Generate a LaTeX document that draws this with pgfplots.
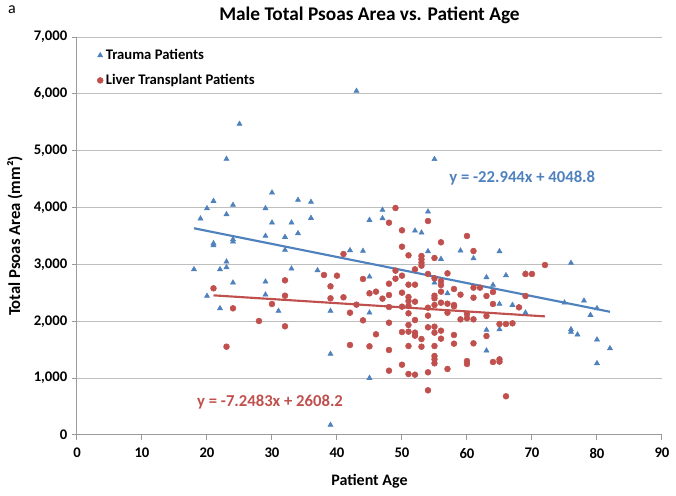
\documentclass[border=0pt]{standalone}
\usepackage{fontspec}
\setmainfont{Carlito}
\usepackage{pgfplots}
\pgfplotsset{compat=1.18}
\definecolor{trauma}{HTML}{4F81BD}
\definecolor{liver}{HTML}{C0504D}
\definecolor{gridc}{HTML}{BEBEBE}
\definecolor{axisc}{HTML}{9A9A9A}

% trauma patients: age, total psoas area (mm^2)
\pgfplotstableread{
age area
25 5470
23 4854
43 6050
55 4850
21 4115
20 3987
24 4045
29 3987
19 3805
23 3881
21 3371
21 3336
24 3441
24 3400
29 3500
23 3048
18 2914
22 2914
23 2949
24 2679
29 2696
20 2445
29 2468
22 2228
30 4262
34 4133
36 4098
30 3734
33 3734
36 3816
32 3482
34 3547
32 3254
33 2925
37 2896
42 3248
44 3236
45 2784
47 3957
47 3811
45 3781
54 3928
52 3593
53 3558
54 3230
56 3095
55 2679
57 2492
59 3242
61 3107
65 3230
76 3025
63 2773
66 2808
69 2837
64 2638
65 2304
67 2286
75 2327
78 2362
80 2228
31 2181
39 2181
45 2151
39 1425
45 1002
39 176
69 2151
63 1847
65 1859
63 1483
79 2110
76 1859
76 1812
77 1765
80 1677
82 1524
80 1261
}\trauma

% liver transplant patients
\pgfplotstableread{
age area
21 2580
24 2228
28 2005
23 1553
30 2304
32 2720
32 2450
38 2814
39 2615
40 2802
39 2404
41 3183
41 2422
43 2292
44 2744
45 2492
46 2521
47 2398
48 2661
48 2462
48 2251
48 3734
49 3992
49 2890
49 2749
50 3600
50 3312
50 2802
50 2503
50 2257
51 3160
51 2644
51 2427
51 2357
51 2269
52 2914
52 2644
52 2345
53 3148
53 3089
53 3031
53 2978
54 3764
54 2832
54 2239
55 3113
55 2756
55 2450
55 2404
55 2286
56 3389
56 2708
56 2638
56 2521
56 2327
57 2843
57 2309
58 2568
58 2263
60 3500
61 3236
72 2990
70 2832
69 2832
59 2468
61 2591
62 2591
61 2415
63 2445
64 2515
64 2304
69 2445
68 2245
58 2286
32 1912
42 2151
44 2017
46 1771
42 1583
45 1560
48 1975
48 1495
48 1131
50 1811
50 1236
51 2140
51 1935
51 1817
51 1565
51 1073
52 2022
52 1800
52 1747
52 1061
53 1688
53 1553
54 2099
54 1894
54 1103
54 786
55 1905
55 1800
55 1565
55 1389
55 1331
55 1261
56 1835
56 1694
57 2151
57 1161
58 1759
58 1606
59 2034
60 2128
60 2052
61 2034
61 1612
60 1301
60 1249
63 2093
63 1741
64 1284
65 1952
65 1331
65 1290
66 1952
67 1964
66 681
}\liver

\begin{document}
\begin{tikzpicture}
\begin{axis}[
    at={(0,0)}, anchor=south west,
    scale only axis,
    width=438.75pt, height=298.5pt,
    xmin=0, xmax=90, ymin=0, ymax=7000,
    xtick={0,10,...,90},
    ytick={0,1000,...,7000},
    axis x line*=bottom, axis y line*=left,
    axis line style={axisc, line width=0.75pt, -},
    tick style={axisc, line width=0.75pt},
    tick align=outside, major tick length=3.75pt,
    ymajorgrids, grid style={gridc, line width=0.75pt},
    /pgf/number format/.cd, 1000 sep={,}, assume math mode=true,
    /pgfplots/.cd,
    ticklabel style={font=\fontsize{11}{12}\selectfont\bfseries},
    xticklabel style={yshift=-2.5pt},
    title={Male Total Psoas Area vs. Patient Age},
    title style={at={(axis description cs:0.5,1)}, anchor=center,
                 yshift=10pt, font=\fontsize{14.5}{16}\selectfont\bfseries},
    xlabel={Patient Age},
    xlabel style={at={(axis description cs:0.5,-0.116)}, anchor=center,
                  font=\fontsize{12}{14}\selectfont\bfseries},
    ylabel={Total Psoas Area (mm²)},
    ylabel style={at={(axis description cs:-0.106,0.5)}, anchor=center,
                  font=\fontsize{12.5}{14}\selectfont\bfseries},
    legend style={at={(axis description cs:0,1)}, anchor=north west,
                  xshift=12pt, yshift=-5pt, draw=none, fill=none,
                  font=\fontsize{11}{12}\selectfont\bfseries,
                  row sep=5.5pt},
    legend cell align=left,
    legend image code/.code={\draw[mark repeat=2,mark phase=2,#1]
        plot coordinates {(0cm,0cm) (0.15cm,0cm) (0.3cm,0cm)};},
    clip=false,
]

\addplot[only marks, mark=triangle*, mark size=2.2pt, color=trauma]
    table[x=age, y=area] {\trauma};
\addlegendentry{Trauma Patients}

\addplot[only marks, mark=*, mark size=2.2pt, color=liver]
    table[x=age, y=area] {\liver};
\addlegendentry{Liver Transplant Patients}

% linear trendlines
\addplot[trauma, line width=1.6pt, forget plot]
    coordinates {(18,3635.8) (82,2167.4)};
\addplot[liver, line width=1.6pt, forget plot]
    coordinates {(21,2456.0) (72,2086.3)};

\node[font=\fontsize{12.5}{14}\selectfont\bfseries, text=trauma]
    at (axis cs:68.5,4515) {y = -22.944x + 4048.8};
\node[font=\fontsize{12.5}{14}\selectfont\bfseries, text=liver]
    at (axis cs:29.7,586) {y = -7.2483x + 2608.2};

\end{axis}
\node[font=\fontsize{12}{14}\selectfont] at (-48.75pt,319pt) {a};
\pgfresetboundingbox
\useasboundingbox (-57.75pt,-45.75pt) rectangle (449.25pt,326.25pt);
\end{tikzpicture}
\end{document}
